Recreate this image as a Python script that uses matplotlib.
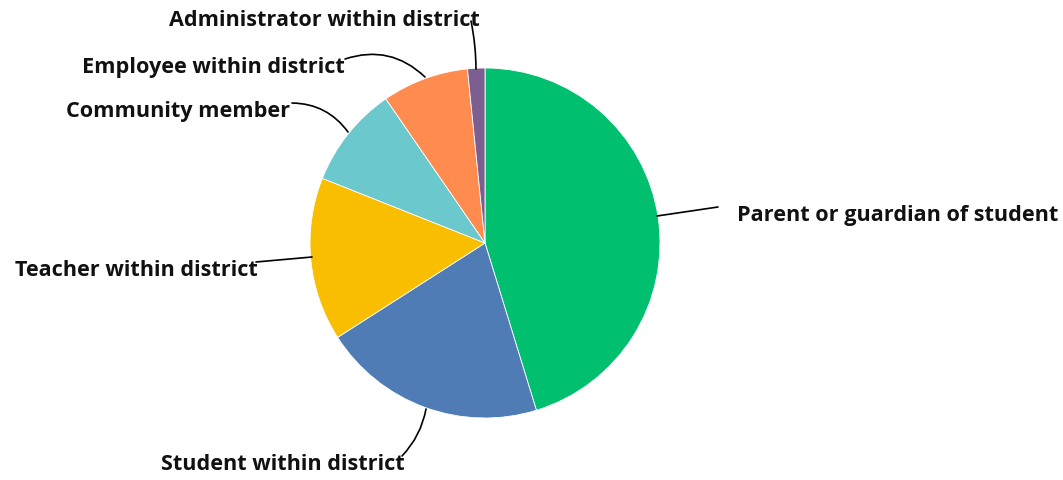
import matplotlib.pyplot as plt

labels = ["Parent or guardian of student", "Student within district", "Teacher within district",
          "Community member", "Employee within district", "Administrator within district"]
shares = [45.3, 20.7, 15.1, 9.4, 8.0, 1.6]
colors = ["#00BF6F", "#507CB6", "#F9BE00", "#6BC8CD", "#FF8B4F", "#7D5E90"]

# chart centre and radius in pixels
CX, CY, R = 485, 244, 175
W, H = 1063, 481


def px(x, y):
    return ((x - CX) / R, (CY - y) / R)


fig = plt.figure(figsize=(W / 100, H / 100), dpi=100)
ax = fig.add_axes([0, 0, 1, 1])
ax.pie(shares, colors=colors, startangle=90, counterclock=False, radius=1,
       wedgeprops=dict(edgecolor="white", linewidth=0.6))
ax.set_xlim(-CX / R, (W - CX) / R)
ax.set_ylim(-(H - CY) / R, CY / R)
ax.set_aspect("equal")
ax.axis("off")

# label placement: (text anchor px, ha, line start px, line end px, rad)
layout = [
    ((737, 216), "left", (657, 217), (718, 208), 0.0),
    ((405, 465), "right", (426, 410), (402, 457), -0.15),
    ((258, 270), "right", (312, 258), (256, 263), 0.0),
    ((290, 112), "right", (348, 133), (292, 104), 0.25),
    ((345, 67), "right", (425, 78), (345, 60), 0.3),
    ((480, 20), "right", (476, 70), (471, 22), 0.05),
]

for lab, (tpos, ha, p0, p1, rad) in zip(labels, layout):
    ax.annotate("", xy=px(*p1), xytext=px(*p0),
                arrowprops=dict(arrowstyle="-", color="black", lw=1.2,
                                connectionstyle=f"arc3,rad={rad}",
                                shrinkA=0, shrinkB=0))
    ax.text(*px(*tpos), lab, ha=ha, va="center", fontsize=15.6,
            fontweight="bold", family="Open Sans", color="#111111")

fig.savefig("out.png", dpi=100)
